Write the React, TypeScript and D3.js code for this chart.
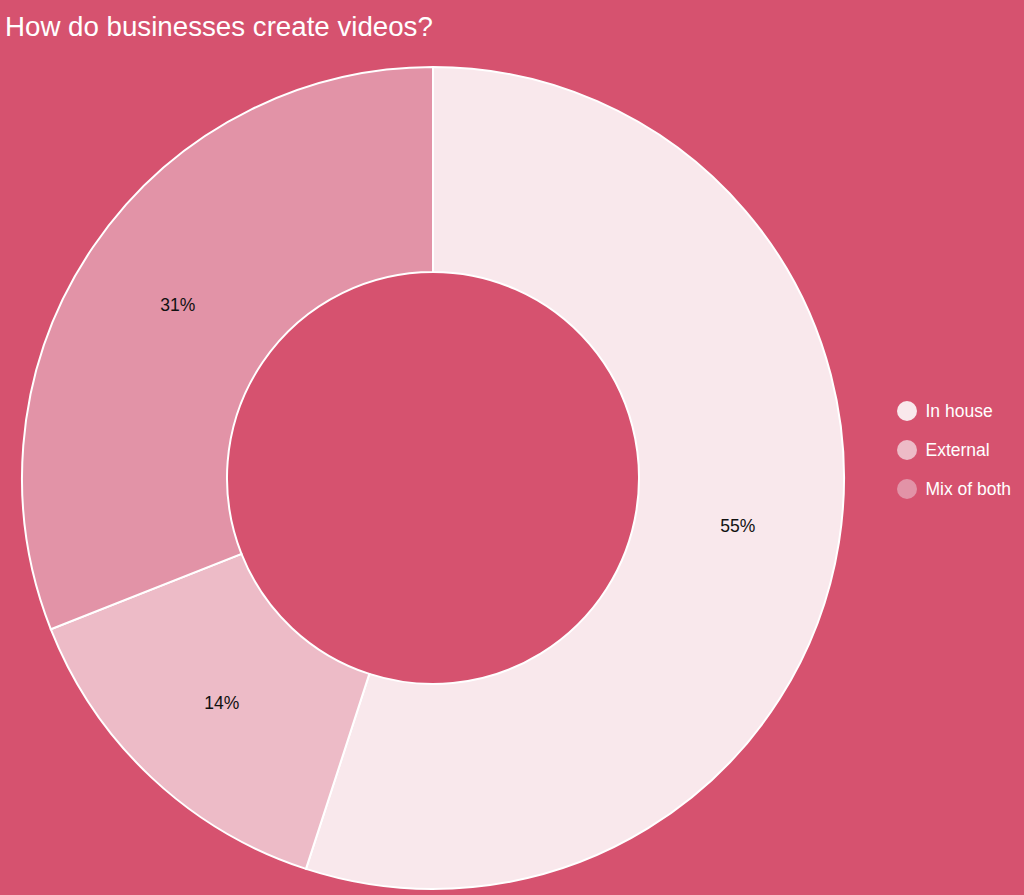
import React from "react";
import * as d3 from "d3";

const categories = ["In house", "External", "Mix of both"];
const values = [55, 14, 31];
const colors = ["#F9E8EC", "#EDBBC7", "#E293A7"];
const title = "How do businesses create videos?";

const W = 1024;
const H = 895;

export default function App() {
  const cx = 433;
  const cy = 478;
  const outerR = 411;
  const innerR = 206;
  const pie = d3.pie<number>().sort(null).value((d) => d);
  const arcs = pie(values);
  const arc = d3.arc<d3.PieArcDatum<number>>().innerRadius(innerR).outerRadius(outerR);
  const total = d3.sum(values);
  const legendY = d3.scalePoint<string>().domain(categories).range([411, 489]);

  return (
    <div style={{ position: "fixed", left: 0, top: 0, width: W, height: H }}>
      <svg width={W} height={H} style={{ display: "block", fontFamily: "'Liberation Sans', Arial, sans-serif" }}>
        <rect x={0} y={0} width={W} height={H} fill="#D6526F" />
        <text x={5} y={36} fill="#FFFFFF" fontSize={27.7}>{title}</text>
        <g transform={`translate(${cx},${cy})`}>
          {arcs.map((a, i) => (
            <path key={i} d={arc(a) || ""} fill={colors[i]} stroke="#FFFFFF" strokeWidth={2} />
          ))}
          {arcs.map((a, i) => {
            const [x, y] = arc.centroid(a);
            return (
              <text key={"l" + i} x={x} y={y} textAnchor="middle" dominantBaseline="central" fontSize={17.5} fill="#111">
                {Math.round((values[i] / total) * 100)}%
              </text>
            );
          })}
        </g>
        <g>
          {categories.map((c, i) => (
            <g key={c} transform={`translate(907,${legendY(c)})`}>
              <circle r={10} fill={colors[i]} />
              <text x={18.5} y={0} dominantBaseline="central" fontSize={17.5} fill="#FFFFFF">{c}</text>
            </g>
          ))}
        </g>
      </svg>
    </div>
  );
}
